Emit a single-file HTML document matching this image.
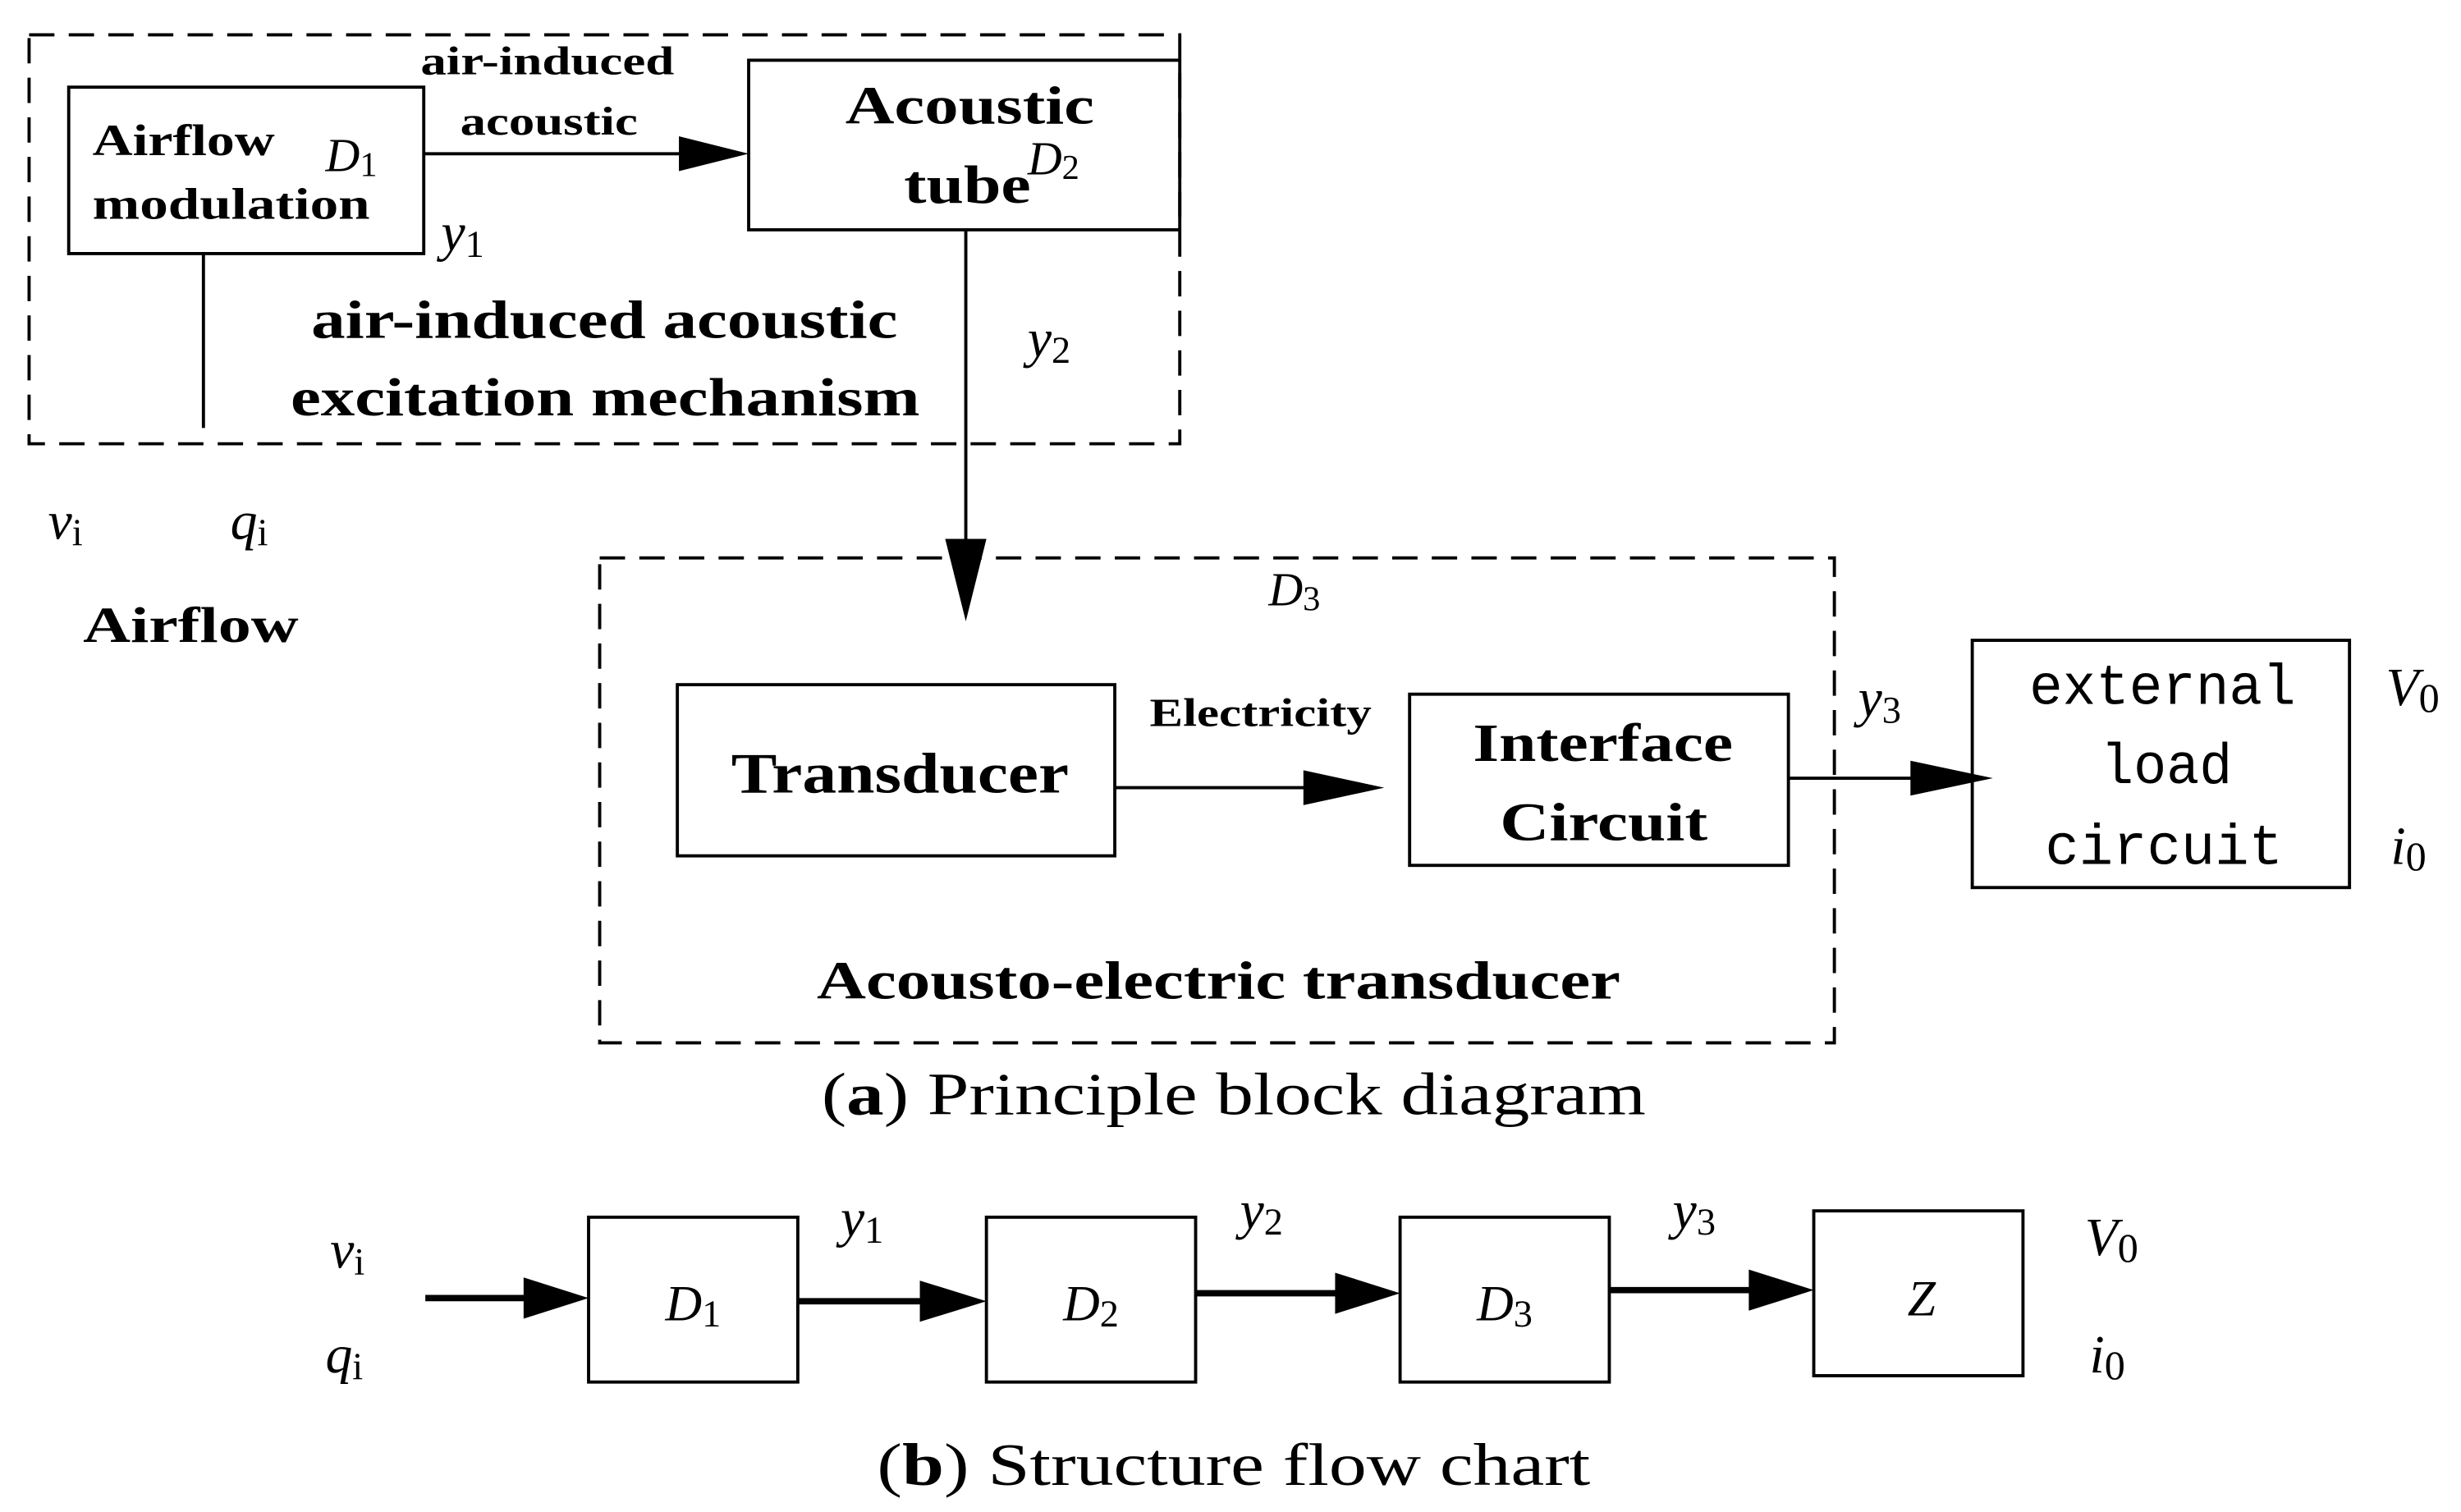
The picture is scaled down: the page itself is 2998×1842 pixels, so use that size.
<!DOCTYPE html>
<html><head><meta charset="utf-8"><style>
html,body{margin:0;padding:0;background:#fff;}
svg{display:block;}
text{font-family:"Liberation Serif",serif;fill:#000;}
.b{font-weight:bold;}
.i{font-style:italic;}
.m{font-family:"Liberation Mono",monospace;}
</style></head><body>
<svg width="2998" height="1842" viewBox="0 0 1552 954" xmlns="http://www.w3.org/2000/svg">
<g fill="none" stroke="#000" stroke-width="2">
<rect x="18" y="22" width="726" height="258" stroke-dasharray="16,9"/>
<rect x="378" y="352" width="779" height="306" stroke-dasharray="16,9"/>
<rect x="43" y="55" width="224" height="105"/>
<rect x="472" y="38" width="272" height="107"/>
<rect x="427" y="432" width="276" height="108"/>
<rect x="889" y="438" width="239" height="108"/>
<rect x="1244" y="404" width="238" height="156"/>
<line x1="128" y1="160" x2="128" y2="270"/>
<line x1="267" y1="97" x2="435" y2="97"/>
<line x1="609" y1="145" x2="609" y2="345"/>
<line x1="703" y1="497" x2="830" y2="497"/>
<line x1="1128" y1="491" x2="1215" y2="491"/>
<rect x="371" y="768" width="132" height="104"/>
<rect x="622" y="768" width="132" height="104"/>
<rect x="883" y="768" width="132" height="104"/>
<rect x="1144" y="764" width="132" height="104"/>
</g>
<g stroke="#000" stroke-width="4">
<line x1="268" y1="819" x2="335" y2="819"/>
<line x1="503" y1="821" x2="585" y2="821"/>
<line x1="754" y1="816" x2="846" y2="816"/>
<line x1="1015" y1="814" x2="1107" y2="814"/>
</g>
<g fill="#000">
<polygon points="428,86 472,97 428,108"/>
<polygon points="596,340 609,392 622,340"/>
<polygon points="822,486 873,497 822,508"/>
<polygon points="1205,480 1257,491 1205,502"/>
<polygon points="330,806 371,819 330,832"/>
<polygon points="580,808 622,821 580,834"/>
<polygon points="842,803 883,816 842,829"/>
<polygon points="1103,801 1144,814 1103,827"/>
</g>
<text class="b" x="58" y="98" font-size="28" textLength="115" lengthAdjust="spacingAndGlyphs">Airflow</text>
<text class="b" x="58" y="138" font-size="28" textLength="175" lengthAdjust="spacingAndGlyphs">modulation</text>
<text class="i" x="205" y="108" font-size="30">D<tspan font-size="22" dy="3" font-style="normal">1</tspan></text>
<text class="b" x="265" y="47" font-size="25" textLength="160" lengthAdjust="spacingAndGlyphs">air-induced</text>
<text class="b" x="290" y="85" font-size="25" textLength="112" lengthAdjust="spacingAndGlyphs">acoustic</text>
<text class="b" x="533" y="78" font-size="34" textLength="157" lengthAdjust="spacingAndGlyphs">Acoustic</text>
<text class="b" x="570" y="128" font-size="34" textLength="80" lengthAdjust="spacingAndGlyphs">tube</text>
<text class="i" x="648" y="110" font-size="30">D<tspan font-size="22" dy="3" font-style="normal">2</tspan></text>
<text class="i" x="278" y="158" font-size="34">y<tspan font-size="24" dy="4" font-style="normal">1</tspan></text>
<text class="b" x="196" y="213" font-size="34" textLength="370" lengthAdjust="spacingAndGlyphs">air-induced acoustic</text>
<text class="b" x="183" y="262" font-size="34" textLength="397" lengthAdjust="spacingAndGlyphs">excitation mechanism</text>
<text class="i" x="648" y="225" font-size="34">y<tspan font-size="24" dy="4" font-style="normal">2</tspan></text>
<text class="i" x="30" y="340" font-size="34">v<tspan font-size="24" dy="4" font-style="normal">i</tspan></text>
<text class="i" x="145" y="340" font-size="34">q<tspan font-size="24" dy="4" font-style="normal">i</tspan></text>
<text class="b" x="52" y="405" font-size="32" textLength="136" lengthAdjust="spacingAndGlyphs">Airflow</text>
<text class="i" x="800" y="382" font-size="30">D<tspan font-size="22" dy="3" font-style="normal">3</tspan></text>
<text class="b" x="461" y="500" font-size="36" textLength="213" lengthAdjust="spacingAndGlyphs">Transducer</text>
<text class="b" x="725" y="458" font-size="25" textLength="140" lengthAdjust="spacingAndGlyphs">Electricity</text>
<text class="b" x="929" y="480" font-size="34" textLength="164" lengthAdjust="spacingAndGlyphs">Interface</text>
<text class="b" x="946" y="530" font-size="34" textLength="131" lengthAdjust="spacingAndGlyphs">Circuit</text>
<text class="i" x="1172" y="452" font-size="34">y<tspan font-size="24" dy="4" font-style="normal">3</tspan></text>
<text class="m" x="1280" y="444" font-size="36" textLength="168" lengthAdjust="spacingAndGlyphs">external</text>
<text class="m" x="1325" y="494" font-size="36" textLength="83" lengthAdjust="spacingAndGlyphs">load</text>
<text class="m" x="1290" y="545" font-size="36" textLength="150" lengthAdjust="spacingAndGlyphs">circuit</text>
<text class="i" x="1505" y="445" font-size="34">V<tspan font-size="26" dy="4" font-style="normal">0</tspan></text>
<text class="i" x="1508" y="545" font-size="34">i<tspan font-size="26" dy="4" font-style="normal">0</tspan></text>
<text class="b" x="515" y="630" font-size="34" textLength="507" lengthAdjust="spacingAndGlyphs">Acousto-electric transducer</text>
<text x="518" y="703" font-size="38" textLength="520" lengthAdjust="spacingAndGlyphs">(<tspan font-weight="bold">a</tspan>) Principle block diagram</text>
<text class="i" x="208" y="800" font-size="34">v<tspan font-size="24" dy="4" font-style="normal">i</tspan></text>
<text class="i" x="205" y="866" font-size="34">q<tspan font-size="24" dy="4" font-style="normal">i</tspan></text>
<text class="i" x="437" y="833" font-size="32" text-anchor="middle">D<tspan font-size="24" dy="4" font-style="normal">1</tspan></text>
<text class="i" x="688" y="833" font-size="32" text-anchor="middle">D<tspan font-size="24" dy="4" font-style="normal">2</tspan></text>
<text class="i" x="949" y="833" font-size="32" text-anchor="middle">D<tspan font-size="24" dy="4" font-style="normal">3</tspan></text>
<text class="i" x="1212" y="830" font-size="32" text-anchor="middle">Z</text>
<text class="i" x="530" y="780" font-size="34">y<tspan font-size="24" dy="4" font-style="normal">1</tspan></text>
<text class="i" x="782" y="775" font-size="34">y<tspan font-size="24" dy="4" font-style="normal">2</tspan></text>
<text class="i" x="1055" y="775" font-size="34">y<tspan font-size="24" dy="4" font-style="normal">3</tspan></text>
<text class="i" x="1315" y="792" font-size="34">V<tspan font-size="26" dy="4" font-style="normal">0</tspan></text>
<text class="i" x="1318" y="866" font-size="34">i<tspan font-size="26" dy="4" font-style="normal">0</tspan></text>
<text x="553" y="937" font-size="38" textLength="450" lengthAdjust="spacingAndGlyphs">(<tspan font-weight="bold">b</tspan>) Structure flow chart</text>
</svg>
</body></html>
